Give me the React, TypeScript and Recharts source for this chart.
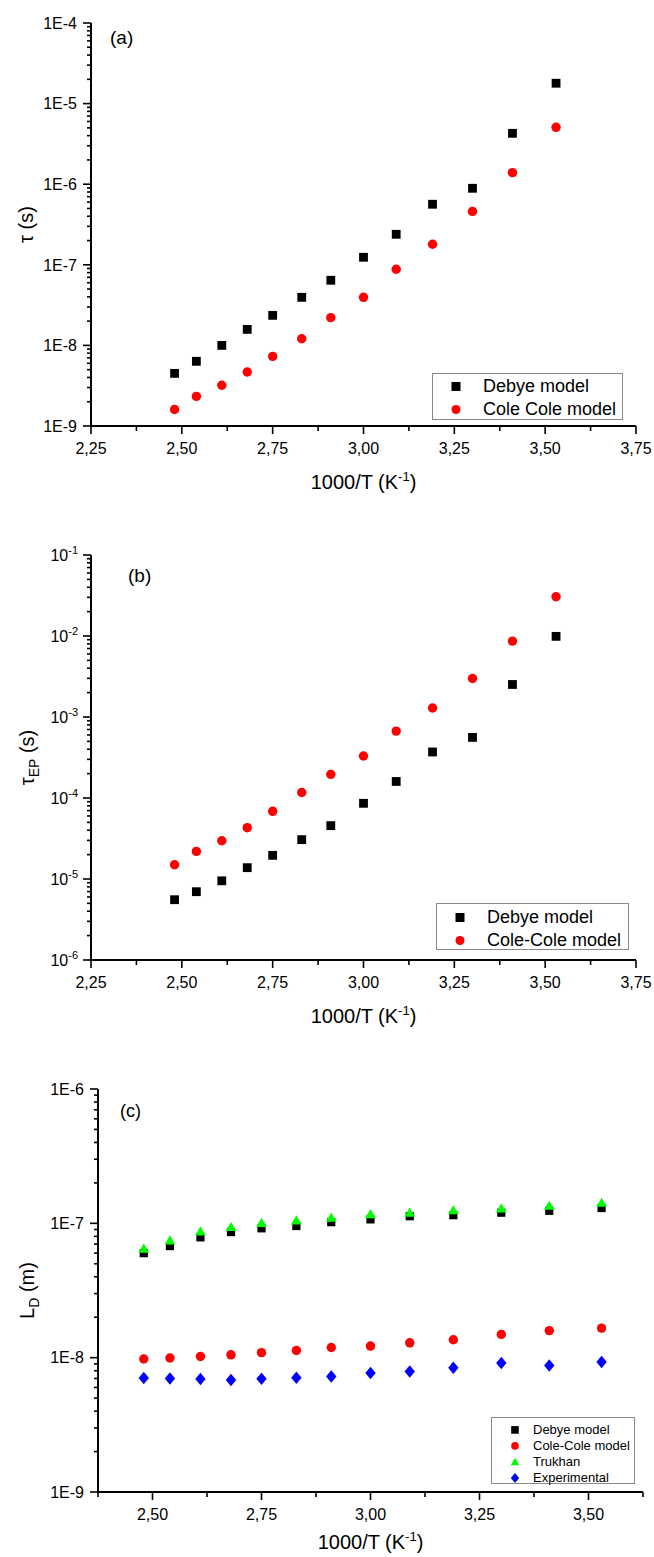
import { ScatterChart, Scatter, XAxis, YAxis, Legend, Label } from "recharts";

const FONT = '"Liberation Sans", Arial, Helvetica, sans-serif';

// 1000/T values (K^-1), same for all three panels
const xVals = [2.48, 2.54, 2.61, 2.68, 2.75, 2.83, 2.91, 3.0, 3.09, 3.19, 3.3, 3.41, 3.53];

// (a) relaxation time tau (s)
const tauDebye = [4.5e-9, 6.35e-9, 1.0e-8, 1.58e-8, 2.36e-8, 3.95e-8, 6.43e-8, 1.24e-7, 2.39e-7, 5.64e-7, 8.9e-7, 4.28e-6, 1.79e-5];
const tauCole = [1.6e-9, 2.33e-9, 3.2e-9, 4.68e-9, 7.3e-9, 1.21e-8, 2.21e-8, 3.95e-8, 8.8e-8, 1.8e-7, 4.6e-7, 1.39e-6, 5.08e-6];

// (b) tau_EP (s)
const tauEPDebye = [5.55e-6, 6.97e-6, 9.5e-6, 1.38e-5, 1.96e-5, 3.06e-5, 4.56e-5, 8.6e-5, 1.6e-4, 3.7e-4, 5.6e-4, 2.52e-3, 9.9e-3];
const tauEPCole = [1.5e-5, 2.19e-5, 2.97e-5, 4.3e-5, 6.85e-5, 1.17e-4, 1.96e-4, 3.3e-4, 6.7e-4, 1.29e-3, 2.99e-3, 8.65e-3, 3.05e-2];

// (c) Debye length L_D (m)
const ldDebye = [6.0e-8, 6.77e-8, 7.86e-8, 8.61e-8, 9.18e-8, 9.55e-8, 1.02e-7, 1.07e-7, 1.13e-7, 1.15e-7, 1.2e-7, 1.24e-7, 1.3e-7];
const ldCole = [9.78e-9, 9.95e-9, 1.02e-8, 1.05e-8, 1.09e-8, 1.13e-8, 1.19e-8, 1.22e-8, 1.29e-8, 1.36e-8, 1.49e-8, 1.59e-8, 1.66e-8];
const ldTrukhan = [6.47e-8, 7.46e-8, 8.71e-8, 9.38e-8, 1.005e-7, 1.05e-7, 1.1e-7, 1.17e-7, 1.2e-7, 1.25e-7, 1.29e-7, 1.35e-7, 1.42e-7];
const ldExp = [7.05e-9, 7.01e-9, 6.94e-9, 6.82e-9, 6.97e-9, 7.09e-9, 7.25e-9, 7.69e-9, 7.9e-9, 8.42e-9, 9.13e-9, 8.76e-9, 9.29e-9];

// legend order per panel
const legendA = ["Debye model", "Cole Cole model"];
const legendB = ["Debye model", "Cole-Cole model"];
const legendC = ["Debye model", "Cole-Cole model", "Trukhan", "Experimental"];

// axis ticks
const xTicksAB = [2.25, 2.375, 2.5, 2.625, 2.75, 2.875, 3.0, 3.125, 3.25, 3.375, 3.5, 3.625, 3.75];
const xTicksC = [2.375, 2.5, 2.625, 2.75, 2.875, 3.0, 3.125, 3.25, 3.375, 3.5, 3.625];
const decadesA = [-9, -8, -7, -6, -5, -4];
const decadesB = [-6, -5, -4, -3, -2, -1];
const decadesC = [-9, -8, -7, -6];
const mantissas = [1, 2, 3, 4, 5, 6, 7, 8, 9];

const logTicks = (decades: number[]) =>
  decades.flatMap((d, i) =>
    i === decades.length - 1 ? [Math.pow(10, d)] : mantissas.map((m) => m * Math.pow(10, d))
  );

const toPoints = (ys: number[]) => xVals.map((x, i) => ({ x, y: ys[i] }));

const isDecade = (v: number) => Math.abs(Math.log10(v) - Math.round(Math.log10(v))) < 1e-6;

const Marker = ({ kind, cx, cy, r, color }: any) => {
  if (kind === "square") return <rect x={cx - r} y={cy - r} width={2 * r} height={2 * r} fill={color} />;
  if (kind === "triangle")
    return (
      <polygon
        points={`${cx},${cy - r * 1.1} ${cx + r * 1.15},${cy + r * 0.85} ${cx - r * 1.15},${cy + r * 0.85}`}
        fill={color}
      />
    );
  if (kind === "diamond")
    return <polygon points={`${cx},${cy - r * 1.2} ${cx + r},${cy} ${cx},${cy + r * 1.2} ${cx - r},${cy}`} fill={color} />;
  return <circle cx={cx} cy={cy} r={r} fill={color} />;
};

const XTick = (props: any) => {
  const { x, y, payload } = props;
  const v = payload.value;
  const major = Math.abs(v * 4 - Math.round(v * 4)) < 1e-6;
  return (
    <g>
      <line x1={x} y1={y} x2={x} y2={y + (major ? 8 : 5)} stroke="#000" strokeWidth={1.6} />
      {major && (
        <text x={x} y={y + 28} textAnchor="middle" fontSize={16} fontFamily={FONT} fill="#000">
          {v.toFixed(2).replace(".", ",")}
        </text>
      )}
    </g>
  );
};

const YTick = (props: any) => {
  const { x, y, payload, pow } = props;
  const v = payload.value;
  const major = isDecade(v);
  const e = Math.round(Math.log10(v));
  return (
    <g>
      <line x1={x} y1={y} x2={x - (major ? 8 : 4)} y2={y} stroke="#000" strokeWidth={1.6} />
      {major && !pow && (
        <text x={x - 14} y={y} dy="0.36em" textAnchor="end" fontSize={16} fontFamily={FONT} fill="#000">
          {`1E${e}`}
        </text>
      )}
      {major && pow && (
        <text x={x - 13} y={y} dy="0.36em" textAnchor="end" fontSize={16} fontFamily={FONT} fill="#000">
          10
          <tspan dy={-7} fontSize={11}>
            {`${e}`}
          </tspan>
        </text>
      )}
    </g>
  );
};

const xTitle = (gap: number) => (props: any) => {
  const vb = props.viewBox || { x: 0, y: 0, width: 0 };
  return (
    <text x={vb.x + vb.width / 2} y={vb.y + gap} textAnchor="middle" fontSize={20} fontFamily={FONT} fill="#000">
      1000/T (K
      <tspan dy={-8} fontSize={13}>
        -1
      </tspan>
      <tspan dy={8}>)</tspan>
    </text>
  );
};

const yTitle = (main: string, sub: string, unit: string, cx: number) => (props: any) => {
  const vb = props.viewBox || { x: 0, y: 0, height: 0 };
  const cy = vb.y + vb.height / 2;
  return (
    <text
      x={cx}
      y={cy}
      transform={`rotate(-90, ${cx}, ${cy})`}
      textAnchor="middle"
      dy="0.35em"
      fontSize={20}
      fontFamily={FONT}
      fill="#000"
    >
      {main}
      {sub && (
        <tspan dy={5} fontSize={14}>
          {sub}
        </tspan>
      )}
      <tspan dy={sub ? -5 : 0}>{` ${unit}`}</tspan>
    </text>
  );
};

const panelTag = (tag: string, dx: number, dy: number, size: number) => (props: any) => {
  const vb = props.viewBox || { x: 0, y: 0, width: 0 };
  return (
    <text x={vb.x + vb.width + dx} y={vb.y + dy} fontSize={size} fontFamily={FONT} fill="#000">
      {tag}
    </text>
  );
};

const legendBox = (
  order: string[],
  w: number,
  h: number,
  rowTop: number,
  rowH: number,
  mx: number,
  tx: number,
  fs: number,
  r: number
) => (props: any) => {
  const items = [...(props.payload || [])].sort((a: any, b: any) => order.indexOf(a.value) - order.indexOf(b.value));
  return (
    <div
      style={{
        width: w,
        height: h,
        boxSizing: "border-box",
        border: "1px solid #8a8a8a",
        background: "#fff",
        position: "relative",
        fontFamily: FONT,
      }}
    >
      {items.map((it: any, i: number) => (
        <div key={i} style={{ position: "absolute", left: 0, top: rowTop + i * rowH - rowH / 2, height: rowH, width: w }}>
          <svg width={tx} height={rowH} style={{ position: "absolute", left: 0, top: 0 }}>
            <Marker kind={it.type} cx={mx} cy={rowH / 2} r={it.type === "diamond" ? r * 1.1 : r} color={it.color} />
          </svg>
          <span
            style={{
              position: "absolute",
              left: tx,
              top: 0,
              lineHeight: `${rowH}px`,
              fontSize: fs,
              color: "#000",
              whiteSpace: "nowrap",
            }}
          >
            {it.value}
          </span>
        </div>
      ))}
    </div>
  );
};

const axisLine = { stroke: "#000", strokeWidth: 2 };

const shape = (kind: string, r: number, color: string) => (p: any) =>
  <Marker kind={kind} cx={p.cx} cy={p.cy} r={r} color={color} />;

export default function App() {
  return (
    <div style={{ position: "absolute", left: 0, top: 0, width: 654, height: 1557, background: "#fff" }}>
      {/* (a) */}
      <div style={{ position: "absolute", left: 0, top: 0 }}>
        <ScatterChart width={654} height={510} margin={{ top: 23, right: 18, bottom: 34, left: 0 }}>
          <XAxis
            type="number"
            dataKey="x"
            domain={[2.25, 3.75]}
            ticks={xTicksAB}
            interval={0}
            height={50}
            tickSize={0}
            tickMargin={0}
            tickLine={false}
            axisLine={axisLine}
            tick={(p: any) => <XTick {...p} />}
            allowDataOverflow
          >
            <Label content={xTitle(63)} />
          </XAxis>
          <YAxis
            type="number"
            dataKey="y"
            scale="log"
            domain={[1e-9, 1e-4]}
            ticks={logTicks(decadesA)}
            interval={0}
            width={91}
            tickSize={0}
            tickMargin={0}
            tickLine={false}
            axisLine={axisLine}
            tick={(p: any) => <YTick {...p} />}
            allowDataOverflow
          >
            <Label content={yTitle("τ", "", "(s)", 26)} />
            <Label content={panelTag("(a)", 19, 21, 19)} />
          </YAxis>
          <Legend
            layout="vertical"
            align="center"
            verticalAlign="middle"
            wrapperStyle={{ left: 432, top: 373, width: 191 }}
            content={legendBox(legendA, 191, 47, 12, 23, 23, 50, 18, 4.5)}
          />
          <Scatter
            name="Debye model"
            data={toPoints(tauDebye)}
            fill="#000000"
            legendType="square"
            shape={shape("square", 4.4, "#000000")}
            isAnimationActive={false}
          />
          <Scatter
            name="Cole Cole model"
            data={toPoints(tauCole)}
            fill="#ff0000"
            legendType="circle"
            shape={shape("circle", 4.7, "#ff0000")}
            isAnimationActive={false}
          />
        </ScatterChart>
      </div>

      {/* (b) */}
      <div style={{ position: "absolute", left: 0, top: 530 }}>
        <ScatterChart width={654} height={510} margin={{ top: 25, right: 18, bottom: 30, left: 0 }}>
          <XAxis
            type="number"
            dataKey="x"
            domain={[2.25, 3.75]}
            ticks={xTicksAB}
            interval={0}
            height={50}
            tickSize={0}
            tickMargin={0}
            tickLine={false}
            axisLine={axisLine}
            tick={(p: any) => <XTick {...p} />}
            allowDataOverflow
          >
            <Label content={xTitle(63)} />
          </XAxis>
          <YAxis
            type="number"
            dataKey="y"
            scale="log"
            domain={[1e-6, 1e-1]}
            ticks={logTicks(decadesB)}
            interval={0}
            width={91}
            tickSize={0}
            tickMargin={0}
            tickLine={false}
            axisLine={axisLine}
            tick={(p: any) => <YTick {...p} pow />}
            allowDataOverflow
          >
            <Label content={yTitle("τ", "EP", "(s)", 27)} />
            <Label content={panelTag("(b)", 37, 27, 19)} />
          </YAxis>
          <Legend
            layout="vertical"
            align="center"
            verticalAlign="middle"
            wrapperStyle={{ left: 436, top: 903 - 530, width: 193 }}
            content={legendBox(legendB, 193, 47, 13, 23, 23, 50, 18, 4.5)}
          />
          <Scatter
            name="Debye model"
            data={toPoints(tauEPDebye)}
            fill="#000000"
            legendType="square"
            shape={shape("square", 4.4, "#000000")}
            isAnimationActive={false}
          />
          <Scatter
            name="Cole-Cole model"
            data={toPoints(tauEPCole)}
            fill="#ff0000"
            legendType="circle"
            shape={shape("circle", 4.7, "#ff0000")}
            isAnimationActive={false}
          />
        </ScatterChart>
      </div>

      {/* (c) */}
      <div style={{ position: "absolute", left: 0, top: 1040 }}>
        <ScatterChart width={654} height={517} margin={{ top: 49, right: 11, bottom: 15, left: 0 }}>
          <XAxis
            type="number"
            dataKey="x"
            domain={[2.375, 3.625]}
            ticks={xTicksC}
            interval={0}
            height={50}
            tickSize={0}
            tickMargin={0}
            tickLine={false}
            axisLine={axisLine}
            tick={(p: any) => <XTick {...p} />}
            allowDataOverflow
          >
            <Label content={xTitle(57)} />
          </XAxis>
          <YAxis
            type="number"
            dataKey="y"
            scale="log"
            domain={[1e-9, 1e-6]}
            ticks={logTicks(decadesC)}
            interval={0}
            width={98}
            tickSize={0}
            tickMargin={0}
            tickLine={false}
            axisLine={axisLine}
            tick={(p: any) => <YTick {...p} />}
            allowDataOverflow
          >
            <Label content={yTitle("L", "D", "(m)", 27)} />
            <Label content={panelTag("(c)", 22, 28, 18)} />
          </YAxis>
          <Legend
            layout="vertical"
            align="center"
            verticalAlign="middle"
            wrapperStyle={{ left: 491, top: 1417 - 1040, width: 144 }}
            content={legendBox(legendC, 144, 67, 12, 15.8, 23, 41, 13, 3.8)}
          />
          <Scatter
            name="Debye model"
            data={toPoints(ldDebye)}
            fill="#000000"
            legendType="square"
            shape={shape("square", 4.1, "#000000")}
            isAnimationActive={false}
          />
          <Scatter
            name="Cole-Cole model"
            data={toPoints(ldCole)}
            fill="#ff0000"
            legendType="circle"
            shape={shape("circle", 4.7, "#ff0000")}
            isAnimationActive={false}
          />
          <Scatter
            name="Trukhan"
            data={toPoints(ldTrukhan)}
            fill="#00ff00"
            legendType="triangle"
            shape={shape("triangle", 4.7, "#00ff00")}
            isAnimationActive={false}
          />
          <Scatter
            name="Experimental"
            data={toPoints(ldExp)}
            fill="#0000ff"
            legendType="diamond"
            shape={shape("diamond", 5.2, "#0000ff")}
            isAnimationActive={false}
          />
        </ScatterChart>
      </div>
    </div>
  );
}
